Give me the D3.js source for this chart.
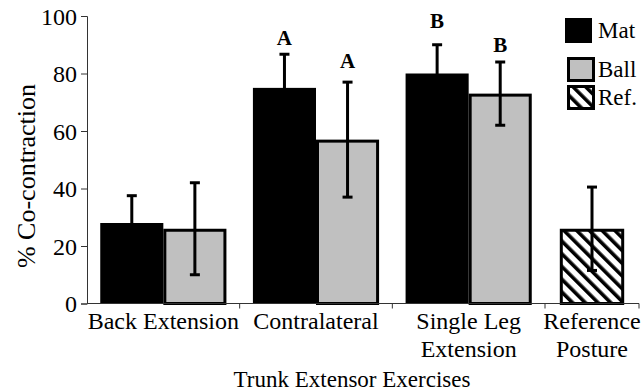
<!DOCTYPE html>
<html>
<head>
<meta charset="utf-8">
<script src="https://cdn.jsdelivr.net/npm/d3@7"></script>
<style>
  body { margin: 0; background: #fff; }
  svg text { font-family: 'Liberation Serif', 'Times New Roman', serif; fill: #000; }
</style>
</head>
<body>
<svg id="chart" width="644" height="392"></svg>
<script>
const exercises = ['Back Extension', 'Contralateral', 'Single Leg Extension']
const surfaces = ['Mat', 'Ball']
const matMeans = [28, 75, 80]
const matErrors = [9.5, 11.7, 10]
const ballMeans = [26, 57, 73]
const ballErrors = [16, 20, 11]
const refCategory = 'Reference Posture'
const refMean = 26
const refError = 14.5
const yTicks = [0, 20, 40, 60, 80, 100]
// significance letters: exercise, surface, letter, height (in % units)
const sigExercises = ['Contralateral', 'Contralateral', 'Single Leg Extension', 'Single Leg Extension']
const sigSurfaces = ['Mat', 'Ball', 'Mat', 'Ball']
const sigLetters = ['A', 'A', 'B', 'B']
const sigHeights = [90, 82, 95.8, 87.5]
const legendLabels = ['Mat', 'Ball', 'Ref.']
const tickLines = {
  'Back Extension': ['Back Extension'],
  'Contralateral': ['Contralateral'],
  'Single Leg Extension': ['Single Leg', 'Extension'],
  'Reference Posture': ['Reference', 'Posture']
}

const svg = d3.select('#chart')
const plotLeft = 87
const plotBottom = 303.5
const plotTop = 16

const y = d3.scaleLinear().domain([0, 100]).range([plotBottom, plotTop])
const x = d3.scaleBand().domain(exercises).range([plotLeft, 545]).paddingInner(0).paddingOuter(0)
const xs = d3.scaleBand().domain(surfaces).range([0, x.bandwidth()]).paddingInner(0).paddingOuter(0.21)
const xr = d3.scaleBand().domain([refCategory]).range([545, 639]).paddingOuter(0.23)

const fills = { Mat: '#000', Ball: '#c0c0c0' }

// hatch pattern
const defs = svg.append('defs')
const pat = defs.append('pattern')
  .attr('id', 'hatch')
  .attr('patternUnits', 'userSpaceOnUse')
  .attr('width', 9)
  .attr('height', 9)
  .attr('patternTransform', 'rotate(-45)')
pat.append('rect').attr('width', 9).attr('height', 9).attr('fill', '#fff')
pat.append('rect').attr('width', 3.6).attr('height', 9).attr('fill', '#000')

// bars
const rows = []
exercises.forEach(function (ex, i) {
  rows.push({ ex: ex, s: 'Mat', v: matMeans[i], e: matErrors[i] })
  rows.push({ ex: ex, s: 'Ball', v: ballMeans[i], e: ballErrors[i] })
})

svg.selectAll('rect.bar')
  .data(rows)
  .enter()
  .append('rect')
  .attr('class', 'bar')
  .attr('x', function (d) { return x(d.ex) + xs(d.s) + (d.s === 'Ball' ? 1.5 : 0) })
  .attr('y', function (d) { return y(d.v) + (d.s === 'Ball' ? 1.5 : 0) })
  .attr('width', function (d) { return xs.bandwidth() - (d.s === 'Ball' ? 3 : 0) })
  .attr('height', function (d) { return plotBottom - y(d.v) - (d.s === 'Ball' ? 1.5 : 0) })
  .attr('fill', function (d) { return fills[d.s] })
  .attr('stroke', function (d) { return d.s === 'Ball' ? '#000' : 'none' })
  .attr('stroke-width', 3)

svg.append('rect')
  .attr('x', xr(refCategory) + 1.5)
  .attr('y', y(refMean) + 1.5)
  .attr('width', xr.bandwidth() - 3)
  .attr('height', plotBottom - y(refMean) - 1.5)
  .attr('fill', 'url(#hatch)')
  .attr('stroke', '#000')
  .attr('stroke-width', 3)

// error bars
const errs = rows.map(function (d) {
  return { cx: x(d.ex) + xs(d.s) + xs.bandwidth() / 2, v: d.v, e: d.e }
})
errs.push({ cx: xr(refCategory) + xr.bandwidth() / 2, v: refMean, e: refError })

const eb = svg.selectAll('g.err').data(errs).enter().append('g').attr('class', 'err')
eb.append('line')
  .attr('x1', function (d) { return d.cx })
  .attr('x2', function (d) { return d.cx })
  .attr('y1', function (d) { return y(d.v - d.e) })
  .attr('y2', function (d) { return y(d.v + d.e) })
  .attr('stroke', '#000').attr('stroke-width', 3)
eb.selectAll('line.cap')
  .data(function (d) { return [d.v - d.e, d.v + d.e].map(function (v) { return { cx: d.cx, v: v } }) })
  .enter()
  .append('line')
  .attr('class', 'cap')
  .attr('x1', function (d) { return d.cx - 5 })
  .attr('x2', function (d) { return d.cx + 5 })
  .attr('y1', function (d) { return y(d.v) })
  .attr('y2', function (d) { return y(d.v) })
  .attr('stroke', '#000').attr('stroke-width', 3)

// significance letters
svg.selectAll('text.sig')
  .data(sigLetters)
  .enter()
  .append('text')
  .attr('class', 'sig')
  .attr('x', function (d, i) { return x(sigExercises[i]) + xs(sigSurfaces[i]) + xs.bandwidth() / 2 })
  .attr('y', function (d, i) { return y(sigHeights[i]) })
  .attr('text-anchor', 'middle')
  .style('font-size', '21px')
  .style('font-weight', 'bold')
  .text(function (d) { return d })

// y axis
const yAxis = svg.append('g')
  .attr('transform', 'translate(' + plotLeft + ',0)')
  .call(d3.axisLeft(y).tickValues(yTicks).tickSize(6).tickPadding(4))
yAxis.selectAll('path, line').attr('stroke', '#333')
yAxis.selectAll('text').style('font-size', '24px').style('font-family', "'Liberation Serif', serif").attr('dy', '0.34em')

// x axis
const xAxis = svg.append('g')
svg.append('line')
  .attr('x1', plotLeft).attr('x2', 639)
  .attr('y1', plotBottom).attr('y2', plotBottom)
  .attr('stroke', '#333')
const boundaries = exercises.map(function (ex) { return x(ex) + x.bandwidth() })
boundaries.push(xr.range()[1])
xAxis.selectAll('line')
  .data(boundaries)
  .enter()
  .append('line')
  .attr('x1', function (d) { return d }).attr('x2', function (d) { return d })
  .attr('y1', plotBottom).attr('y2', plotBottom + 5)
  .attr('stroke', '#333')

const cats = exercises.concat([refCategory])
const catCenter = function (c) {
  return c === refCategory ? xr(c) + xr.bandwidth() / 2 : x(c) + x.bandwidth() / 2
}
const lab = xAxis.selectAll('text')
  .data(cats)
  .enter()
  .append('text')
  .attr('text-anchor', 'middle')
  .style('font-size', '24px')
lab.selectAll('tspan')
  .data(function (c) { return tickLines[c].map(function (t) { return { c: c, t: t } }) })
  .enter()
  .append('tspan')
  .attr('x', function (d) { return catCenter(d.c) })
  .attr('y', function (d, i) { return 329 + i * 28 })
  .text(function (d) { return d.t })

// axis titles
svg.append('text')
  .attr('x', 352).attr('y', 387)
  .attr('text-anchor', 'middle')
  .style('font-size', '23px')
  .text('Trunk Extensor Exercises')
svg.append('text')
  .attr('transform', 'translate(35,' + 176 + ') rotate(-90)')
  .attr('text-anchor', 'middle')
  .style('font-size', '26px')
  .text('% Co-contraction')

// legend
const legendFills = ['#000', '#c0c0c0', 'url(#hatch)']
const legendTops = [18, 57, 85]
const lg = svg.selectAll('g.legend')
  .data(legendLabels)
  .enter()
  .append('g')
  .attr('class', 'legend')
lg.append('rect')
  .attr('x', function (d, i) { return i === 0 ? 565 : 568.5 })
  .attr('y', function (d, i) { return legendTops[i] + (i === 0 ? 0 : 1.5) })
  .attr('width', function (d, i) { return i === 0 ? 27 : 25 })
  .attr('height', function (d, i) { return i === 0 ? 25 : 22 })
  .attr('fill', function (d, i) { return legendFills[i] })
  .attr('stroke', function (d, i) { return i === 0 ? 'none' : '#000' })
  .attr('stroke-width', 3)
lg.append('text')
  .attr('x', 598)
  .attr('y', function (d, i) { return legendTops[i] + 20 })
  .style('font-size', '23px')
  .text(function (d) { return d })
</script>
</body>
</html>
